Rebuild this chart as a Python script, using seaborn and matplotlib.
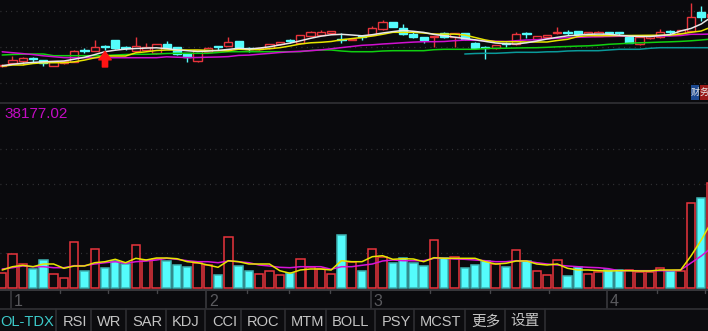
import numpy as np
import matplotlib
matplotlib.use("Agg")
import matplotlib.pyplot as plt
import matplotlib.transforms as mtrans
from matplotlib.patches import Rectangle
from matplotlib.lines import Line2D
import seaborn as sns

# ---------------- data ----------------
open_ = [44.0, 46.7, 49.0, 51.2, 50.0, 44.3, 47.0, 48.3, 59.5, 59.3,
         62.9, 70.0, 61.9, 59.3, 60.0, 56.7, 66.0, 63.3, 56.7, 49.3,
         58.3, 63.5, 64.0, 68.7, 60.9, 61.0, 61.7, 65.7, 69.5, 66.7,
         74.0, 75.0, 76.7, 70.2, 70.3, 72.9, 75.0, 80.7, 88.3, 82.3,
         75.7, 72.7, 72.7, 76.7, 73.0, 76.7, 67.3, 61.9, 61.7, 65.9,
         65.7, 75.9, 70.7, 72.7, 77.0, 77.5, 79.0, 75.7, 74.0, 76.9,
         76.9, 73.3, 65.7, 71.7, 72.7, 78.5, 77.3, 79.3, 98.3, 92.7]
close = [45.5, 50.0, 51.7, 51.0, 46.7, 49.0, 49.0, 59.0, 59.3, 62.7,
         62.7, 61.7, 61.7, 64.0, 63.3, 66.0, 62.3, 55.7, 52.7, 60.0,
         62.3, 63.3, 67.7, 61.7, 60.7, 62.0, 66.0, 67.7, 69.3, 75.0,
         78.3, 78.3, 79.0, 70.0, 71.0, 72.7, 81.7, 88.3, 83.3, 75.7,
         73.3, 70.0, 74.0, 72.7, 76.7, 70.7, 61.7, 61.7, 65.0, 65.7,
         76.0, 75.7, 74.0, 75.0, 77.7, 77.3, 75.7, 77.7, 78.3, 76.7,
         76.7, 67.3, 73.3, 74.0, 78.3, 78.3, 80.0, 92.7, 92.7, 96.0]
high = [46.5, 54.0, 53.3, 52.7, 50.0, 49.3, 49.5, 60.0, 61.7, 70.0,
        65.0, 70.5, 64.0, 72.7, 67.3, 66.5, 69.0, 63.5, 57.0, 60.3,
        62.7, 63.5, 72.7, 69.0, 63.3, 62.5, 66.5, 68.0, 70.7, 75.3,
        78.7, 80.0, 79.5, 77.0, 71.3, 75.0, 84.0, 90.0, 88.5, 86.0,
        77.7, 73.0, 74.3, 78.3, 77.0, 77.0, 68.3, 64.0, 65.3, 68.3,
        78.3, 77.7, 74.3, 75.3, 82.7, 80.0, 79.3, 78.0, 78.7, 78.3,
        78.3, 73.5, 73.5, 74.3, 81.0, 80.0, 80.3, 107.3, 104.0, 98.0]
low = [43.5, 46.7, 45.0, 48.3, 44.3, 44.0, 46.5, 48.3, 57.3, 59.3,
       60.0, 61.5, 60.0, 59.3, 60.0, 56.5, 62.0, 55.5, 47.7, 47.7,
       58.0, 60.0, 63.7, 61.5, 58.3, 60.5, 61.5, 65.5, 66.7, 66.5,
       73.7, 74.7, 76.5, 67.0, 70.0, 70.0, 74.7, 80.5, 83.0, 75.5,
       71.7, 67.3, 63.3, 72.5, 63.3, 70.5, 61.5, 50.7, 61.5, 63.3,
       65.5, 71.7, 70.5, 72.5, 75.7, 75.0, 75.5, 75.5, 73.7, 75.0,
       74.0, 67.0, 65.5, 71.5, 72.5, 75.7, 77.0, 79.0, 89.3, 92.0]

ma5 = [44.3, 45.7, 46.8, 47.6, 48.2, 48.6, 49.0, 50.8, 52.7, 55.4,
       58.3, 59.8, 60.9, 61.5, 61.9, 62.2, 61.4, 60.1, 59.3, 58.5,
       58.9, 59.6, 60.6, 61.7, 61.0, 61.9, 63.2, 65.1, 66.9, 69.2,
       71.7, 73.8, 75.2, 75.7, 75.0, 74.2, 75.3, 77.0, 78.4, 79.6,
       78.7, 77.6, 75.6, 74.2, 72.9, 71.5, 70.2, 68.6, 67.0, 66.2,
       66.0, 67.2, 69.0, 71.0, 72.7, 74.2, 74.9, 75.7, 75.9, 75.8,
       74.8, 73.9, 73.6, 73.5, 74.4, 75.5, 79.0, 81.5, 86.0, 93.0]
ma10 = [43.8, 45.0, 45.0, 46.5, 47.2, 47.3, 47.3, 48.2, 49.9, 52.2,
        54.0, 54.0, 54.0, 57.2, 58.2, 59.5, 60.0, 60.0, 60.0, 60.0,
        59.7, 59.3, 59.3, 60.8, 60.3, 60.4, 61.3, 62.3, 64.0, 66.0,
        67.2, 67.7, 68.5, 70.2, 71.4, 72.5, 74.0, 75.7, 77.7, 77.7,
        77.7, 77.0, 76.0, 75.8, 75.9, 75.0, 72.5, 70.0, 68.3, 68.3,
        68.2, 68.0, 68.0, 68.0, 69.5, 70.7, 73.5, 74.3, 74.3, 74.3,
        74.4, 74.5, 74.6, 74.7, 74.8, 74.9, 76.0, 77.7, 79.0, 83.0]
ma20 = [58.2, 57.3, 56.4, 55.4, 54.2, 53.3, 52.4, 52.3, 52.3, 52.3,
        52.3, 52.3, 52.3, 52.3, 52.3, 52.3, 53.2, 52.8, 52.4, 52.5,
        52.8, 53.0, 53.4, 54.6, 54.9, 55.8, 56.6, 57.5, 58.2, 58.7,
        59.3, 60.1, 61.2, 62.4, 63.5, 64.7, 65.2, 66.0, 66.6, 67.3,
        67.9, 68.3, 68.3, 68.5, 69.3, 69.9, 69.7, 69.4, 68.8, 68.5,
        69.3, 70.0, 70.2, 71.2, 71.8, 72.4, 72.7, 73.0, 73.3, 73.5,
        73.7, 73.8, 74.0, 74.0, 74.0, 74.0, 74.5, 75.7, 75.7, 76.0]
ma60 = [55.0, 55.5, 55.8, 56.0, 56.0, 54.3, 54.3, 54.3, 54.3, 54.3,
        54.5, 55.0, 55.5, 55.7, 55.7, 56.0, 56.5, 56.7, 56.7, 56.7,
        56.7, 57.5, 58.3, 58.3, 58.3, 58.3, 58.3, 58.3, 58.3, 58.3,
        59.5, 60.0, 60.0, 59.0, 58.3, 58.3, 58.3, 59.0, 59.3, 59.3,
        59.3, 59.3, 60.3, 60.7, 60.7, 60.7, 60.7, 61.5, 61.7, 61.8,
        62.0, 62.2, 62.3, 62.7, 63.2, 63.5, 63.9, 64.2, 64.8, 65.7,
        66.2, 66.8, 67.2, 67.5, 67.9, 68.2, 68.6, 69.2, 70.0, 71.0]
ma120 = [np.nan] * 45 + [
        56.0, 56.5, 56.7, 56.7, 57.2, 57.7, 57.7, 57.7, 58.2, 58.3,
        59.0, 59.3, 59.3, 59.3, 60.0, 60.7, 60.7, 60.7, 61.7, 62.3,
        62.3, 62.3, 62.3, 62.3, 62.3]

volume = [3060, 6800, 4800, 3860, 5600, 2800, 2060, 9260, 3400, 7800,
          4000, 5460, 4800, 8600, 5600, 5800, 5400, 4600, 4200, 5060,
          4600, 2600, 10260, 4400, 3400, 2800, 3400, 2600, 3000, 5800,
          4200, 3800, 2800, 10600, 5200, 3400, 7800, 6260, 5000, 6060,
          5000, 4400, 9600, 6000, 6260, 4000, 4600, 5460, 4800, 4200,
          7600, 5400, 3400, 2600, 5600, 2400, 4200, 2800, 3260, 3600,
          3600, 3600, 3200, 3260, 4060, 3460, 3400, 17060, 18000, 21000]
vol_dir = list("RRRCCRRRCR" "CCCRRRCCCR" "RCRCCRRRCR" "RRRCRCRRCC"
               "CCRCRCCCRC" "RCRRRCCRRC" "CRRRRCRRCR")
vol_ma5 = [3600, 4260, 4540, 4260, 4800, 4800, 3940, 4400, 4400, 5060,
           5260, 5740, 5060, 5940, 5600, 6000, 6000, 5860, 5260, 5060,
           4600, 4140, 5460, 5260, 4800, 4800, 4800, 3460, 2940, 3600,
           3800, 3800, 3600, 5460, 5260, 5260, 6260, 6460, 5740, 5860,
           5800, 5260, 6060, 5940, 5940, 5940, 5940, 5260, 4800, 4940,
           5400, 5400, 4800, 4600, 4800, 3940, 3600, 3600, 3460, 3400,
           3460, 3460, 3400, 3400, 3600, 3600, 3600, 6400, 9600, 13200]
vol_ma10 = [3800, 4060, 4400, 4260, 4260, 4060, 4060, 4460, 4460, 4800,
            5060, 5260, 4940, 5260, 5400, 5600, 5940, 5740, 5460, 5260,
            5260, 5060, 5400, 5260, 5060, 4600, 4400, 4140, 4060, 4260,
            4260, 4260, 3740, 4260, 4260, 4540, 4800, 5400, 5600, 5460,
            5460, 5460, 5940, 5940, 5800, 5740, 5600, 5460, 5260, 5260,
            5460, 5400, 5060, 4800, 4600, 4400, 4260, 4140, 4060, 3860,
            3460, 3460, 3460, 3460, 3460, 3460, 3600, 5000, 6400, 8060]

vol_label = "38177.02"
month_labels = ["1", "2", "3", "4"]
month_start = [1, 20, 36, 59]
week_ticks = [5.62, 10.29, 15.06, 23.81, 27.9, 31.88, 41.61, 47.45, 53.19, 63.7, 68.37]
tabs = ["OL-TDX", "RSI", "WR", "SAR", "KDJ", "CCI", "ROC", "MTM", "BOLL",
        "PSY", "MCST", "更多", "设置"]
tab_left_px = [0.5, 63, 97, 132, 172, 212, 247, 291, 332, 382, 420, 471, 510]
tab_sep_px = [56, 90.7, 126, 165.7, 205, 240.7, 285, 326, 375, 414, 465, 505, 545]

# ---------------- style ----------------
BG = "#0a0a0d"
RED = "#e8343c"
CYAN = "#54fcfc"
GRID = "#3a3a3e"
sns.set_theme(style="dark", rc={"axes.facecolor": BG, "figure.facecolor": BG,
                                "savefig.facecolor": BG})
plt.rcParams["font.family"] = ["Liberation Sans", "Noto Sans CJK SC", "DejaVu Sans"]

W, H = 708, 331
fig = plt.figure(figsize=(W / 100, H / 100), dpi=100)


def fx(px):
    return px / W


def fy(py):
    return 1 - py / H


n = len(close)
x = np.arange(n)
XL = (-0.214, 68.66)

# ---------------- price panel ----------------
ax1 = fig.add_axes([0, fy(102), 1, 102 / H])
ax1.set_xlim(*XL)
ax1.set_ylim(8, 110)
for lvl in [99.3, 63, 27]:
    ax1.axhline(lvl, color=GRID, lw=0.9, ls=(0, (0.7, 3.6)), zorder=0)

o = np.array(open_)
c = np.array(close)
up = c >= o
col = np.where(up, RED, CYAN)
ax1.vlines(x, low, high, colors=col, lw=1.0, zorder=2)
body_h = np.maximum(np.abs(c - o), 0.9)
ax1.bar(x, body_h, bottom=np.minimum(o, c), width=0.8,
        color=np.where(up, BG, CYAN), edgecolor=col, linewidth=1.0, zorder=3)

line_specs = [(ma120, "#0a9a9a"), (ma60, "#10d010"), (ma20, "#d010d0"),
              (ma10, "#e6e600"), (ma5, "#e8e8e8")]
for k, (vals, colr) in enumerate(line_specs):
    sns.lineplot(x=x, y=np.array(vals, dtype=float), ax=ax1, color=colr,
                 lw=1.1, zorder=4 + k * 0.1, legend=False)

ax1.annotate("", xy=(10.0, 58.5), xytext=(10.0, 43.0),
             arrowprops=dict(arrowstyle="simple,head_width=0.9,head_length=0.6,tail_width=0.38",
                             color="#ff1414", mutation_scale=10, shrinkA=0, shrinkB=0),
             zorder=6)
ax1.set_axis_off()

# little report icons in the corner
fig.patches.append(Rectangle((fx(691), fy(100)), fx(8), 15 / H, transform=fig.transFigure,
                             facecolor="#1d4a92", edgecolor="none", zorder=3))
fig.patches.append(Rectangle((fx(700), fy(100)), fx(8), 15 / H, transform=fig.transFigure,
                             facecolor="#9a1a1a", edgecolor="none", zorder=3))
fig.text(fx(695), fy(92.5), "财", color="#e8e8e8", fontsize=6.5, ha="center", va="center",
         family=["Noto Sans CJK SC"], zorder=4)
fig.text(fx(703.8), fy(92.5), "务", color="#e8e8e8", fontsize=6.5, ha="center", va="center",
         family=["Noto Sans CJK SC"], zorder=4)

# separator between panels
fig.patches.append(Rectangle((0, fy(104)), 1, 2 / H, transform=fig.transFigure,
                             facecolor="#2a2a2e", edgecolor="none", zorder=3))

# ---------------- volume panel ----------------
ax2 = fig.add_axes([0, fy(290), 1, (290 - 104) / H])
ax2.set_xlim(*XL)
ax2.set_ylim(-400, 36800)
for lvl in [27800, 20800, 14000, 7000]:
    ax2.axhline(lvl, color=GRID, lw=0.9, ls=(0, (0.7, 3.6)), zorder=0)

vup = np.array([d == "R" for d in vol_dir])
ax2.bar(x, volume, width=0.82,
        color=np.where(vup, BG, CYAN),
        edgecolor=np.where(vup, RED, "#3fb4b4"), linewidth=1.1, zorder=2)
sns.lineplot(x=x, y=np.array(vol_ma10, float), ax=ax2, color="#d814d8", lw=1.1,
             zorder=4, legend=False)
sns.lineplot(x=x, y=np.array(vol_ma5, float), ax=ax2, color="#e6e600", lw=1.1,
             zorder=4.1, legend=False)
ax2.set_axis_off()

fig.text(fx(4), fy(113.5), vol_label, color="#c40cc4", fontsize=11,
         ha="left", va="center", zorder=4)

# ---------------- time axis ----------------
fig.add_artist(Line2D([0, 1], [fy(289.8), fy(289.8)], color="#3c3c40", lw=1.3,
                      transform=fig.transFigure, zorder=3))
bt = mtrans.blended_transform_factory(ax2.transData, fig.transFigure)
for ms, lab in zip(month_start, month_labels):
    xv = ms - 0.15
    fig.add_artist(Line2D([xv, xv], [fy(290), fy(309)], color="#38383c", lw=1.2,
                          transform=bt, zorder=3))
    fig.text(xv, fy(293.5), lab,
             transform=mtrans.offset_copy(bt, fig=fig, x=2.5, y=0, units="dots"),
             color="#5a5a5e", fontsize=11.5, ha="left", va="top", zorder=1)
for wt in week_ticks:
    fig.add_artist(Line2D([wt, wt], [fy(290), fy(293)], color="#46464a", lw=1.0,
                          transform=bt, zorder=3))

# ---------------- tab bar ----------------
fig.patches.append(Rectangle((0, 0), 1, fy(308.5), transform=fig.transFigure,
                             facecolor="#0c0c0f", edgecolor="none", zorder=5))
fig.add_artist(Line2D([0, 1], [fy(308.5), fy(308.5)], color="#2e2e32", lw=1.3,
                      transform=fig.transFigure, zorder=6))
for sx in tab_sep_px:
    fig.add_artist(Line2D([fx(sx), fx(sx)], [0, fy(309)], color="#2e2e32", lw=1.2,
                          transform=fig.transFigure, zorder=6))
for k, (t, lx) in enumerate(zip(tabs, tab_left_px)):
    colr = "#3ccaca" if k == 0 else "#c4c4c4"
    fig.text(fx(lx), fy(321.5), t, color=colr, fontsize=10.5, ha="left", va="center",
             family=["Liberation Sans", "Noto Sans CJK SC"], zorder=7)

fig.savefig("out.png", dpi=100, facecolor=BG)
